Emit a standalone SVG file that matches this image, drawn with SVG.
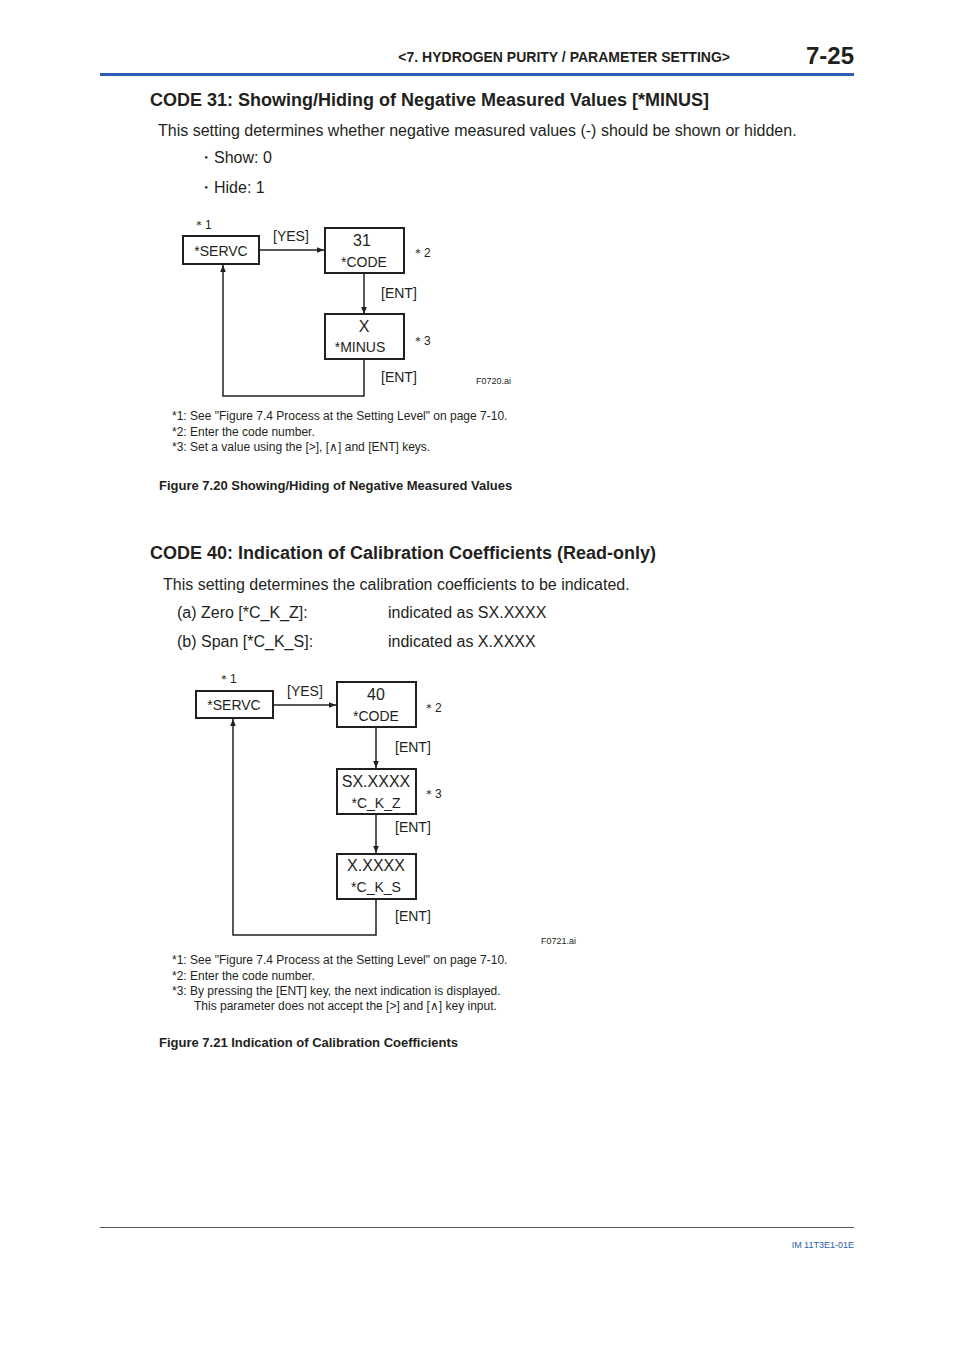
<svg xmlns="http://www.w3.org/2000/svg" width="954" height="1350" viewBox="0 0 954 1350">
<style>
text{font-family:"Liberation Sans",Arial,sans-serif;fill:#231f20}
.b{font-weight:bold}
.box{fill:#fff;stroke:#231f20;stroke-width:2}
.ln{fill:none;stroke:#231f20;stroke-width:1.5}
.s{font-size:14px}.n{font-size:12px}.t{font-size:16px}
</style>
<defs><marker id="a" viewBox="0 0 10 10" refX="10" refY="5" markerWidth="7" markerHeight="7" orient="auto" markerUnits="userSpaceOnUse"><path d="M0,1L10,5L0,9z" fill="#231f20"/></marker></defs>
<rect width="954" height="1350" fill="#fff"/>
<text x="730" y="62" class="b" font-size="14" text-anchor="end">&lt;7. HYDROGEN PURITY / PARAMETER SETTING&gt;</text>
<text x="854" y="64" class="b" font-size="24" text-anchor="end">7-25</text>
<rect x="100" y="73" width="754" height="3" fill="#2a5db0"/>
<text x="150" y="106" class="b" font-size="18">CODE 31: Showing/Hiding of Negative Measured Values [*MINUS]</text>
<text x="158" y="136" class="t">This setting determines whether negative measured values (-) should be shown or hidden.</text>
<text x="198" y="163" class="t">・Show:   0</text>
<text x="198" y="193" class="t">・Hide:    1</text>
<g id="connectors1">
<line x1="259" y1="250" x2="324" y2="250" class="ln" marker-end="url(#a)"/>
<line x1="364" y1="273" x2="364" y2="314" class="ln" marker-end="url(#a)"/>
<polyline points="364,359 364,396 223,396 223,265" class="ln" marker-end="url(#a)"/>
</g>
<g id="servc1"><rect x="183" y="236" width="76" height="28" class="box"/><text x="221" y="256" class="s" text-anchor="middle">*SERVC</text></g>
<g id="code1"><rect x="325" y="228" width="79" height="45" class="box"/><text x="362" y="246" class="t" text-anchor="middle">31</text><text x="364" y="267" class="s" text-anchor="middle">*CODE</text></g>
<g id="minus1"><rect x="325" y="314" width="79" height="45" class="box"/><text x="364" y="332" class="t" text-anchor="middle">X</text><text x="360" y="352" class="s" text-anchor="middle">*MINUS</text></g>
<text x="193" y="229" class="n">＊1</text>
<text x="273" y="241" class="s">[YES]</text>
<text x="412" y="257" class="n">＊2</text>
<text x="381" y="298" class="s">[ENT]</text>
<text x="412" y="345" class="n">＊3</text>
<text x="381" y="382" class="s">[ENT]</text>
<text x="476" y="384" font-size="9">F0720.ai</text>
<text x="172" y="420" class="n">*1: See "Figure 7.4 Process at the Setting Level" on page 7-10.</text>
<text x="172" y="436" class="n">*2: Enter the code number.</text>
<text x="172" y="451" class="n">*3: Set a value using the [&gt;], [∧] and [ENT] keys.</text>
<text x="159" y="490" class="b" font-size="13">Figure 7.20    Showing/Hiding of Negative Measured Values</text>

<text x="150" y="559" class="b" font-size="18">CODE 40: Indication of Calibration Coefficients (Read-only)</text>
<text x="163" y="590" class="t">This setting determines the calibration coefficients to be indicated.</text>
<text x="177" y="618" class="t">(a) Zero  [*C_K_Z]:</text><text x="388" y="618" class="t">indicated as SX.XXXX</text>
<text x="177" y="647" class="t">(b) Span  [*C_K_S]:</text><text x="388" y="647" class="t">indicated as X.XXXX</text>
<g id="connectors2">
<line x1="273" y1="705" x2="336" y2="705" class="ln" marker-end="url(#a)"/>
<line x1="376" y1="727" x2="376" y2="768" class="ln" marker-end="url(#a)"/>
<line x1="376" y1="814" x2="376" y2="853" class="ln" marker-end="url(#a)"/>
<polyline points="376,899 376,935 233,935 233,719" class="ln" marker-end="url(#a)"/>
</g>
<g id="servc2"><rect x="196" y="691" width="77" height="27" class="box"/><text x="234" y="710" class="s" text-anchor="middle">*SERVC</text></g>
<g id="code2"><rect x="337" y="682" width="79" height="45" class="box"/><text x="376" y="700" class="t" text-anchor="middle">40</text><text x="376" y="721" class="s" text-anchor="middle">*CODE</text></g>
<g id="ckz"><rect x="337" y="769" width="79" height="45" class="box"/><text x="376" y="787" class="t" text-anchor="middle">SX.XXXX</text><text x="376" y="808" class="s" text-anchor="middle">*C_K_Z</text></g>
<g id="cks"><rect x="337" y="854" width="79" height="45" class="box"/><text x="376" y="871" class="t" text-anchor="middle">X.XXXX</text><text x="376" y="892" class="s" text-anchor="middle">*C_K_S</text></g>
<text x="218" y="683" class="n">＊1</text>
<text x="287" y="696" class="s">[YES]</text>
<text x="423" y="712" class="n">＊2</text>
<text x="395" y="752" class="s">[ENT]</text>
<text x="423" y="798" class="n">＊3</text>
<text x="395" y="832" class="s">[ENT]</text>
<text x="395" y="921" class="s">[ENT]</text>
<text x="541" y="944" font-size="9">F0721.ai</text>
<text x="172" y="964" class="n">*1: See "Figure 7.4 Process at the Setting Level" on page 7-10.</text>
<text x="172" y="980" class="n">*2: Enter the code number.</text>
<text x="172" y="995" class="n">*3: By pressing the [ENT] key, the next indication is displayed.</text>
<text x="194" y="1010" class="n">This parameter does not accept the [&gt;] and [∧] key input.</text>
<text x="159" y="1047" class="b" font-size="13">Figure 7.21    Indication of Calibration Coefficients</text>
<rect x="100" y="1227" width="754" height="1" fill="#555"/>
<text x="854" y="1248" font-size="9" text-anchor="end" style="fill:#2a5db0">IM 11T3E1-01E</text>
</svg>
